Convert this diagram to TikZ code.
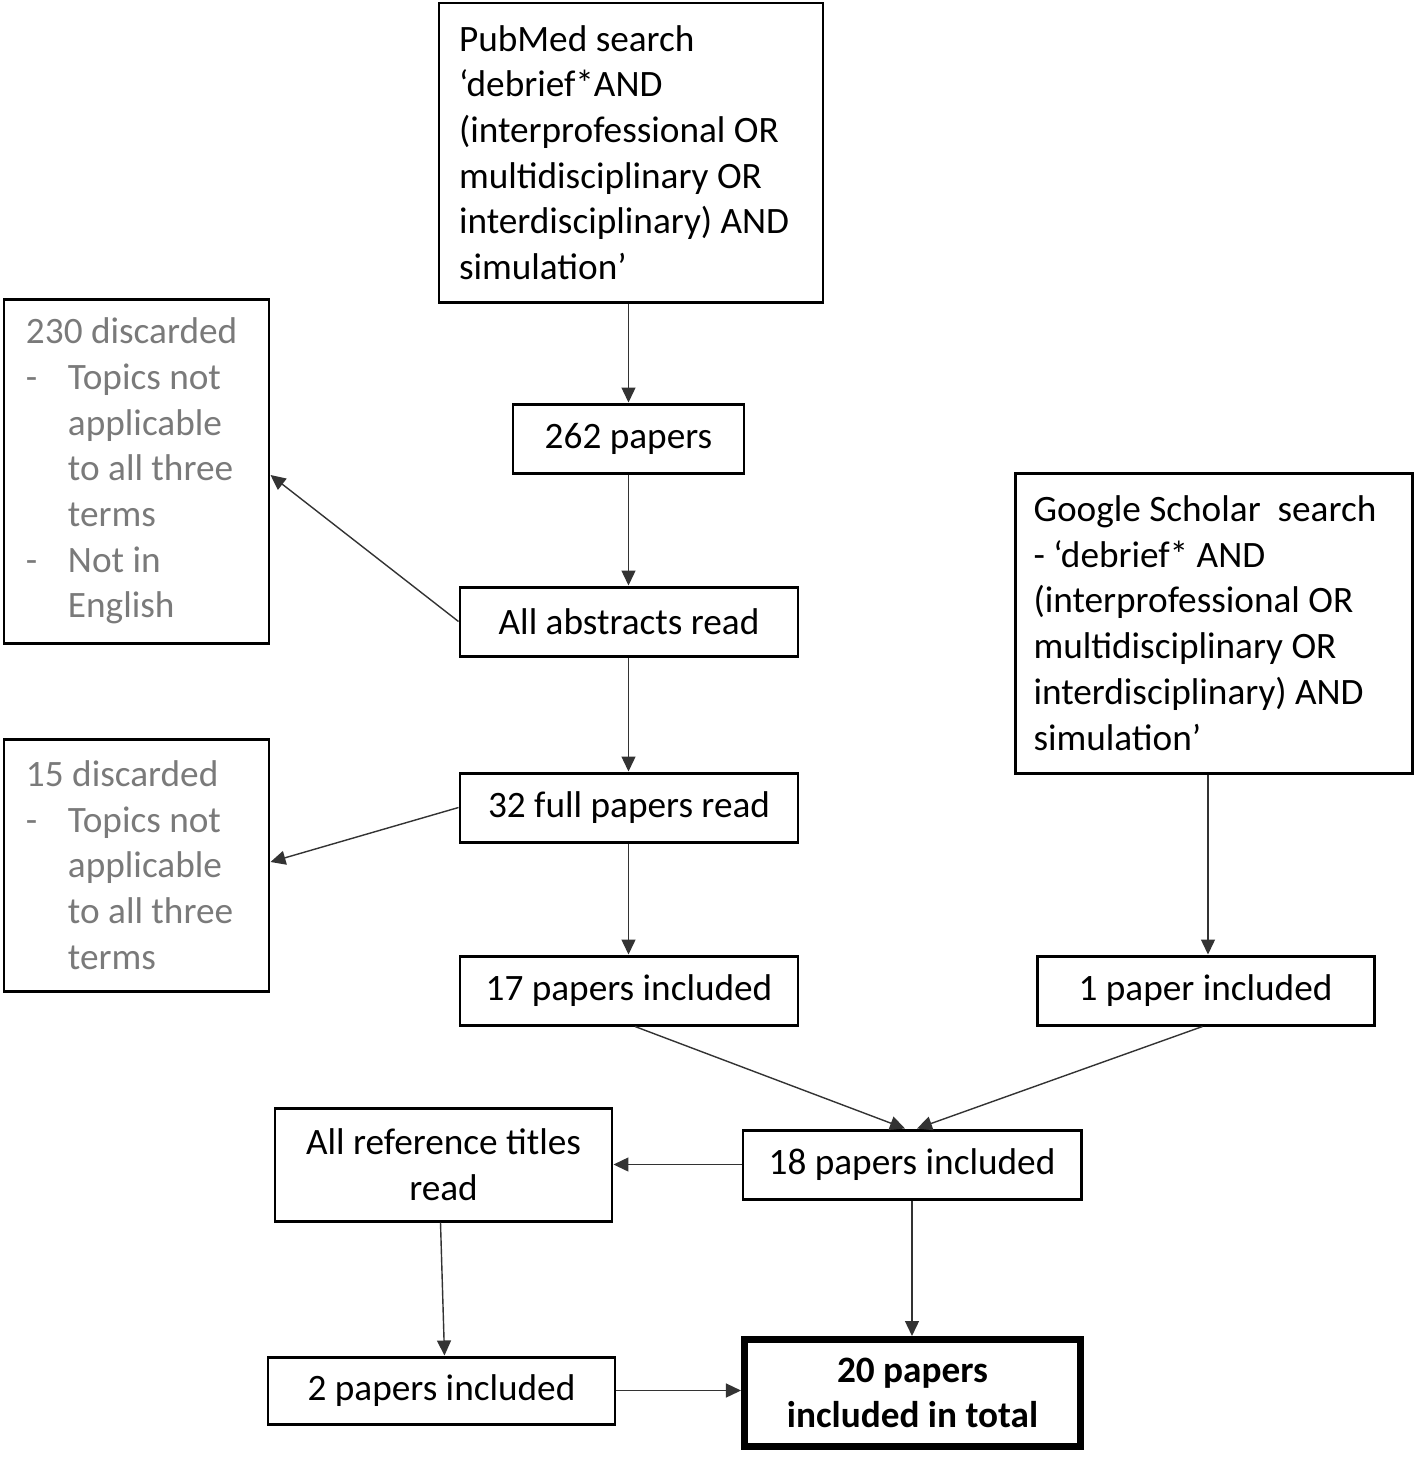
\documentclass[tikz,border=0pt]{standalone}
\usepackage{fontspec}
\setmainfont{Carlito}
\usetikzlibrary{arrows.meta,positioning,calc}
\definecolor{ink}{HTML}{000000}
\definecolor{mute}{HTML}{7A7A7A}
\definecolor{wire}{HTML}{333333}

\begin{document}
\begin{tikzpicture}[
  font=\fontsize{10.6}{13}\selectfont, ink,
  box/.style={draw=ink, line width=0.85pt, align=center, inner sep=0pt,
              minimum width=#1, minimum height=0.69cm},
  tall/.style={draw=ink, line width=0.85pt, align=flush left, inner sep=0pt},
  side/.style={tall, text=mute},
  fwd/.style={-{Triangle[length=1.5mm, width=1.4mm]}, draw=wire, line width=0.4pt},
]
\useasboundingbox (0,0) rectangle (14.16,-14.57);

% ---- PubMed branch ----------------------------------------------------------
\node[tall, minimum width=3.84cm, minimum height=2.99cm, text width=3.44cm]
  (pubmed) at (6.31,-1.525) {PubMed search\\
  ‘debrief*AND\\
  (interprofessional OR\\
  multidisciplinary OR\\
  interdisciplinary) AND\\
  simulation’};
\node[box=2.31cm] (p262) at (6.285,-4.385) {262 papers};
\node[box=3.38cm] (abstracts) at (6.29,-6.215) {All abstracts read};
\node[box=3.38cm] (full32) at (6.29,-8.075) {32 full papers read};
\node[box=3.38cm] (inc17) at (6.29,-9.905) {17 papers included};

\draw[fwd] (pubmed.south -| p262.north) -- (p262.north);
\draw[fwd] (p262.south) -- (p262.south |- abstracts.north);
\draw[fwd] (abstracts.south -| p262.south) -- (p262.south |- full32.north);
\draw[fwd] (full32.south -| p262.south) -- (p262.south |- inc17.north);

% ---- discarded --------------------------------------------------------------
\node[side, minimum width=2.65cm, minimum height=3.44cm, text width=2.21cm]
  (disc230) at (1.365,-4.71) {230 discarded\\
  \makebox[0.42cm][l]{-}Topics not\\
  \hspace*{0.42cm}applicable\\
  \hspace*{0.42cm}to all three\\
  \hspace*{0.42cm}terms\\
  \makebox[0.42cm][l]{-}Not in\\
  \hspace*{0.42cm}English};
\node[side, minimum width=2.65cm, minimum height=2.52cm, text width=2.21cm]
  (disc15) at (1.365,-8.65) {15 discarded\\
  \makebox[0.42cm][l]{-}Topics not\\
  \hspace*{0.42cm}applicable\\
  \hspace*{0.42cm}to all three\\
  \hspace*{0.42cm}terms};
\draw[fwd] (abstracts.west) -- ([yshift=-0.04cm]disc230.east);
\draw[fwd] (full32.west) -- ([yshift=0.03cm]disc15.east);

% ---- Google Scholar branch --------------------------------------------------
\node[tall, minimum width=3.97cm, minimum height=3.0cm, text width=3.6cm]
  (google) at (12.135,-6.23) {Google Scholar~ search\\
  - ‘debrief* AND\\
  (interprofessional OR\\
  multidisciplinary OR\\
  interdisciplinary) AND\\
  simulation’};
\node[box=3.37cm] (inc1) at (12.055,-9.905) {1 paper included};
\draw[fwd] ([xshift=0.025cm]inc1.north |- google.south) -- ([xshift=0.025cm]inc1.north);

% ---- merge ------------------------------------------------------------------
\node[box=3.38cm] (inc18) at (9.12,-11.645) {18 papers included};
\draw[fwd] ([xshift=0.06cm]inc17.south) -- ([xshift=-0.07cm]inc18.north);
\draw[fwd] ([xshift=-0.03cm]inc1.south) -- ([xshift=0.05cm]inc18.north);

\node[box=3.37cm, minimum height=1.13cm] (reftitles) at (4.435,-11.645)
  {All reference titles\\read};
\node[box=3.47cm, minimum height=0.67cm] (inc2) at (4.415,-13.905) {2 papers included};
\draw[fwd] (inc18.west) -- (reftitles.east);
\draw[fwd] ([xshift=-0.03cm]reftitles.south) -- ([xshift=0.03cm]inc2.north);

% ---- total ------------------------------------------------------------------
\node[box=3.36cm, minimum height=1.07cm, line width=2pt, font=\fontsize{10.6}{13}\selectfont\bfseries]
  (total) at (9.125,-13.93) {20 papers\\included in total};
\draw[fwd] (inc18.south) -- (inc18.south |- total.north);
\draw[fwd] (inc2.east) -- (inc2.east -| total.west);

\end{tikzpicture}
\end{document}
